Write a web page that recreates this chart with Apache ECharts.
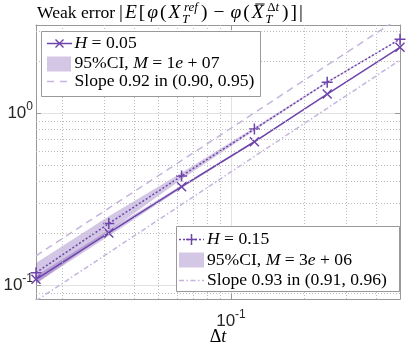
<!DOCTYPE html>
<html><head><meta charset="utf-8">
<script src="https://cdn.jsdelivr.net/npm/echarts@6/dist/echarts.min.js"></script>
<style>html,body{margin:0;padding:0;background:#fff}#c{width:407px;height:347px}</style>
</head><body><div id="c"></div>
<script>
// ---- data ----
const dt = [1/64, 1/32, 1/16, 1/8, 1/4, 1/2];
const errH005 = [0.108, 0.201, 0.373, 0.681, 1.29, 2.41];
const errH015 = [0.118, 0.228, 0.431, 0.807, 1.51, 2.69];
const ciH005Lo = [0.1026, 0.193, 0.3655, 0.674, 1.2835, 2.403];
const ciH005Hi = [0.1134, 0.209, 0.3805, 0.688, 1.2965, 2.417];
const ciH015Lo = [0.1015, 0.205, 0.412, 0.791, 1.495, 2.674];
const ciH015Hi = [0.1345, 0.251, 0.450, 0.823, 1.525, 2.706];
const slopeDt = [1/64, 1/2];
const slopeH005 = [0.148, 3.59];
const slopeH015 = [0.081, 2.03];
const xMinorGrid = [0.02, 0.03, 0.04, 0.05, 0.06, 0.07, 0.08, 0.09, 0.2, 0.3, 0.4];
const yMinorGrid = [0.09, 0.2, 0.3, 0.4, 0.5, 0.6, 0.7, 0.8, 0.9, 2, 3];
const xRange = [1/64, 0.5];
const yRange = [0.083, 3.25];
const legend1Labels = ['{i|H} = 0.05', '95%CI, {i|M} = 1{i|e} + 07', 'Slope 0.92 in (0.90, 0.95)'];
const legend2Labels = ['{i|H} = 0.15', '95%CI, {i|M} = 3{i|e} + 06', 'Slope 0.93 in (0.91, 0.96)'];

// ---- styles ----
const purple = '#6e44aa';
const light = '#c5b4dd';
const band = 'rgba(110,68,170,0.30)';
const serif = '"Liberation Serif", "Times New Roman", serif';
const sans = '"Liberation Sans", Arial, Helvetica, sans-serif';
const axisCol = '#999';
const crossPath = 'path://M0,0L1,1M1,0L0,1';
const plusPath = 'path://M0.5,0L0.5,1M0,0.5L1,0.5';

function powLabel(v) {
  const e = Math.log10(v), r = Math.round(e);
  if (Math.abs(e - r) > 1e-6) return '';
  return '{b|10}{s|' + (r < 0 ? '-' : '') + Math.abs(r) + '}';
}
const tickRich = {
  b: {fontSize: 17, fontFamily: sans, color: '#262626', lineHeight: 24, verticalAlign: 'middle'},
  s: {fontSize: 12, fontFamily: sans, color: '#262626', lineHeight: 10, verticalAlign: 'top'}
};

function bandSeries(lo, hi, z) {
  return {
    type: 'custom', coordinateSystem: 'cartesian2d', silent: true, z: z, clip: true,
    data: dt.map((x, i) => [x, lo[i], hi[i]]),
    encode: {x: 0, y: [1, 2]},
    renderItem: function (params, api) {
      if (params.dataIndex !== 0) return null;
      const top = dt.map((x, i) => api.coord([x, hi[i]]));
      const bot = dt.map((x, i) => api.coord([x, lo[i]])).reverse();
      return {type: 'polygon', shape: {points: top.concat(bot)}, style: {fill: band}};
    }
  };
}

// ---- title layout (math-like) ----
const ctx = document.createElement('canvas').getContext('2d');
const S = 17.6, SM = 19.5, s = 13;
function cssFont(sz, it) { return (it ? 'italic ' : 'normal ') + sz + 'px ' + serif; }
function mw(t, sz, it) { ctx.font = cssFont(sz, it); return ctx.measureText(t).width; }
const graphics = [];
function txt(x, baseline, t, sz, it) {
  graphics.push({type: 'text', x: x, y: baseline - 0.3 * sz, silent: true, z: 100,
    style: {text: t, fontFamily: serif, fontSize: sz, fontStyle: it ? 'italic' : 'normal',
            fill: '#000', align: 'left', verticalAlign: 'middle', textAlign: 'left', textVerticalAlign: 'middle'}});
}
const titleParts = [
  {t: 'Weak error', text: 1}, {t: '|'}, {t: 'E', it: 1}, {t: '['}, {t: 'φ', it: 1}, {t: '('}, {t: 'X', it: 1},
  {sup: [['ref', 1]], sub: 'T'}, {t: ')'}, {t: '−', op: 1}, {t: 'φ', it: 1}, {t: '('},
  {t: 'X', it: 1, bar: 1}, {sup: [['Δ', 0], ['t', 1]], sub: 'T'}, {t: ')'}, {t: ']'}, {t: '|'}
];
(function layoutTitle() {
  const x0 = 37, xMath = 119, xEnd = 312, B = 19;
  function pw(p) {
    if (p.text) return mw(p.t, S, 0);
    if (p.sup) {
      let supW = 0; p.sup.forEach(([t, it]) => supW += mw(t, s, it));
      return Math.max(supW + 1.5, mw(p.sub, s, 1)) + 1;
    }
    return mw(p.t, SM, p.it) + (p.op ? 8 : 0);
  }
  const math = titleParts.slice(1);
  const natural = math.reduce((a, p) => a + pw(p), 0);
  const extra = Math.max(0, Math.min(2, (xEnd - xMath - natural) / (math.length - 1)));
  txt(x0, B, titleParts[0].t, S, 0);
  let x = xMath;
  math.forEach((p, k) => {
    if (k > 0) x += extra;
    if (p.sup) {
      let supW = 0;
      p.sup.forEach(([t, it]) => { txt(x + 1.5 + supW, B - 7.5, t, s, it); supW += mw(t, s, it); });
      txt(x - 0.5, B + 4, p.sub, s, 1);
    } else {
      const w = mw(p.t, SM, p.it);
      const tx = x + (p.op ? 4 : 0);
      txt(tx, B, p.t, SM, p.it);
      if (p.bar) {
        graphics.push({type: 'line', silent: true, z: 100,
          shape: {x1: tx + 3.5, y1: B - 15, x2: tx + w + 1, y2: B - 15},
          style: {stroke: '#000', lineWidth: 1}});
      }
    }
    x += pw(p);
  });
})();

// ---- legends ----
const LF = 17.6;
const legRich = {i: {fontStyle: 'italic', fontFamily: serif, fontSize: LF, fill: '#000'}};
function legText(x, y, t) {
  graphics.push({type: 'text', x: x, y: y, silent: true, z: 101,
    style: {text: t, fontFamily: serif, fontSize: LF, fontStyle: 'normal', fill: '#000', rich: legRich,
            align: 'left', verticalAlign: 'middle', textAlign: 'left', textVerticalAlign: 'middle'}});
}
function legBox(x, y, w, h) {
  graphics.push({type: 'rect', silent: true, z: 99, shape: {x: x, y: y, width: w, height: h},
    style: {fill: '#fff', stroke: axisCol, lineWidth: 1}});
}
function legLine(x1, x2, y, kind) {
  const isLight = kind === 'light' || kind === 'lightdd';
  graphics.push({type: 'line', silent: true, z: 101, shape: {x1: x1, y1: y, x2: x2, y2: y},
    style: {stroke: isLight ? light : purple, lineWidth: 1.5,
            lineDash: kind === 'dot' ? [2, 2] : kind === 'light' ? [7, 6] : kind === 'lightdd' ? [5, 2.5, 1.5, 2.5] : null}});
}
function legCross(cx, cy, r) {
  [[-r, -r, r, r], [-r, r, r, -r]].forEach(d => graphics.push({type: 'line', silent: true, z: 102,
    shape: {x1: cx + d[0], y1: cy + d[1], x2: cx + d[2], y2: cy + d[3]}, style: {stroke: purple, lineWidth: 1.5}}));
}
function legPlus(cx, cy, r) {
  [[-r, 0, r, 0], [0, -r, 0, r]].forEach(d => graphics.push({type: 'line', silent: true, z: 102,
    shape: {x1: cx + d[0], y1: cy + d[1], x2: cx + d[2], y2: cy + d[3]}, style: {stroke: purple, lineWidth: 1.5}}));
}
function legSwatch(x, y, w, h) {
  graphics.push({type: 'rect', silent: true, z: 101, shape: {x: x, y: y, width: w, height: h}, style: {fill: band}});
}
// legend 1 (top-left)
legBox(41.5, 31.5, 219, 65);
legLine(47, 72, 43.5, null); legCross(59.5, 43.5, 4);
legSwatch(47, 56.5, 24, 15);
legLine(47, 72, 81.5, 'light');
legText(74.5, 43.5, legend1Labels[0]);
legText(74.5, 63.5, legend1Labels[1]);
legText(74.5, 81.5, legend1Labels[2]);
// legend 2 (bottom-right)
legBox(176.5, 226.5, 223, 65);
legLine(179, 204, 239.5, 'dot'); legPlus(191.5, 239.5, 5.5);
legSwatch(179, 252.5, 25, 15);
legLine(179, 204, 280.5, 'lightdd');
legText(207, 239.5, legend2Labels[0]);
legText(207, 260, legend2Labels[1]);
legText(207, 280.5, legend2Labels[2]);

// ---- chart ----
const chart = echarts.init(document.getElementById('c'), null, {renderer: 'canvas'});
const baseAxis = {
  type: 'log', logBase: 10,
  axisLine: {show: true, lineStyle: {color: axisCol, width: 1}},
  axisTick: {show: true, inside: true, length: 5, lineStyle: {color: axisCol}},
  splitLine: {show: false},
  minorTick: {show: false}, minorSplitLine: {show: false}
};
chart.setOption({
  animation: false,
  backgroundColor: '#fff',
  grid: {left: 36, right: 7, top: 25, bottom: 48, containLabel: false, outerBoundsMode: 'none'},
  xAxis: [
    Object.assign({}, baseAxis, {
      position: 'bottom', min: xRange[0], max: xRange[1],
      axisLabel: {formatter: powLabel, rich: tickRich, margin: 10},
      splitLine: {show: true, lineStyle: {color: '#e2e2e2', width: 1}},
      name: '{d|Δ}{i|t}', nameLocation: 'middle', nameGap: 28, nameMoveOverlap: false,
      nameTextStyle: {rich: {d: {fontFamily: serif, fontSize: 18, color: '#000', lineHeight: 20},
                             i: {fontFamily: serif, fontSize: 18, fontStyle: 'italic', color: '#000', lineHeight: 20}}}
    }),
    Object.assign({}, baseAxis, {position: 'top', min: xRange[0], max: xRange[1], axisLabel: {show: false}})
  ],
  yAxis: [
    Object.assign({}, baseAxis, {
      position: 'left', min: yRange[0], max: yRange[1],
      axisLabel: {formatter: powLabel, rich: tickRich, margin: 3},
      splitLine: {show: true, lineStyle: {color: '#e2e2e2', width: 1}}
    }),
    Object.assign({}, baseAxis, {position: 'right', min: yRange[0], max: yRange[1], axisLabel: {show: false}})
  ],
  graphic: {elements: graphics},
  series: [
    {
      type: 'line', data: [[dt[0], errH005[0]]], showSymbol: false, lineStyle: {opacity: 0}, silent: true, z: 0,
      markLine: {
        silent: true, symbol: 'none', animation: false, label: {show: false},
        lineStyle: {type: [1, 2], color: '#bdbdbd', width: 1},
        emphasis: {disabled: true},
        data: xMinorGrid.map(v => ({xAxis: v})).concat(yMinorGrid.map(v => ({yAxis: v})))
      }
    },
    bandSeries(ciH015Lo, ciH015Hi, 1),
    bandSeries(ciH005Lo, ciH005Hi, 1),
    {
      type: 'line', data: slopeDt.map((x, i) => [x, slopeH005[i]]), showSymbol: false, silent: true, z: 2, clip: true,
      lineStyle: {color: light, width: 1.5, type: [7, 5]}
    },
    {
      type: 'line', data: slopeDt.map((x, i) => [x, slopeH015[i]]), showSymbol: false, silent: true, z: 2, clip: true,
      lineStyle: {color: light, width: 1.5, type: [5, 2.5, 1.5, 2.5]}
    },
    {
      type: 'line', data: dt.map((x, i) => [x, errH015[i]]), silent: true, z: 3, clip: false,
      symbol: plusPath, symbolSize: 11, showAllSymbol: true,
      itemStyle: {color: 'none', borderColor: purple, borderWidth: 1.5},
      lineStyle: {color: purple, width: 1.5, type: [2, 2]}
    },
    {
      type: 'line', data: dt.map((x, i) => [x, errH005[i]]), silent: true, z: 3, clip: false,
      symbol: crossPath, symbolSize: 9, showAllSymbol: true,
      itemStyle: {color: 'none', borderColor: purple, borderWidth: 1.5},
      lineStyle: {color: purple, width: 1.5}
    }
  ]
});
</script></body></html>
